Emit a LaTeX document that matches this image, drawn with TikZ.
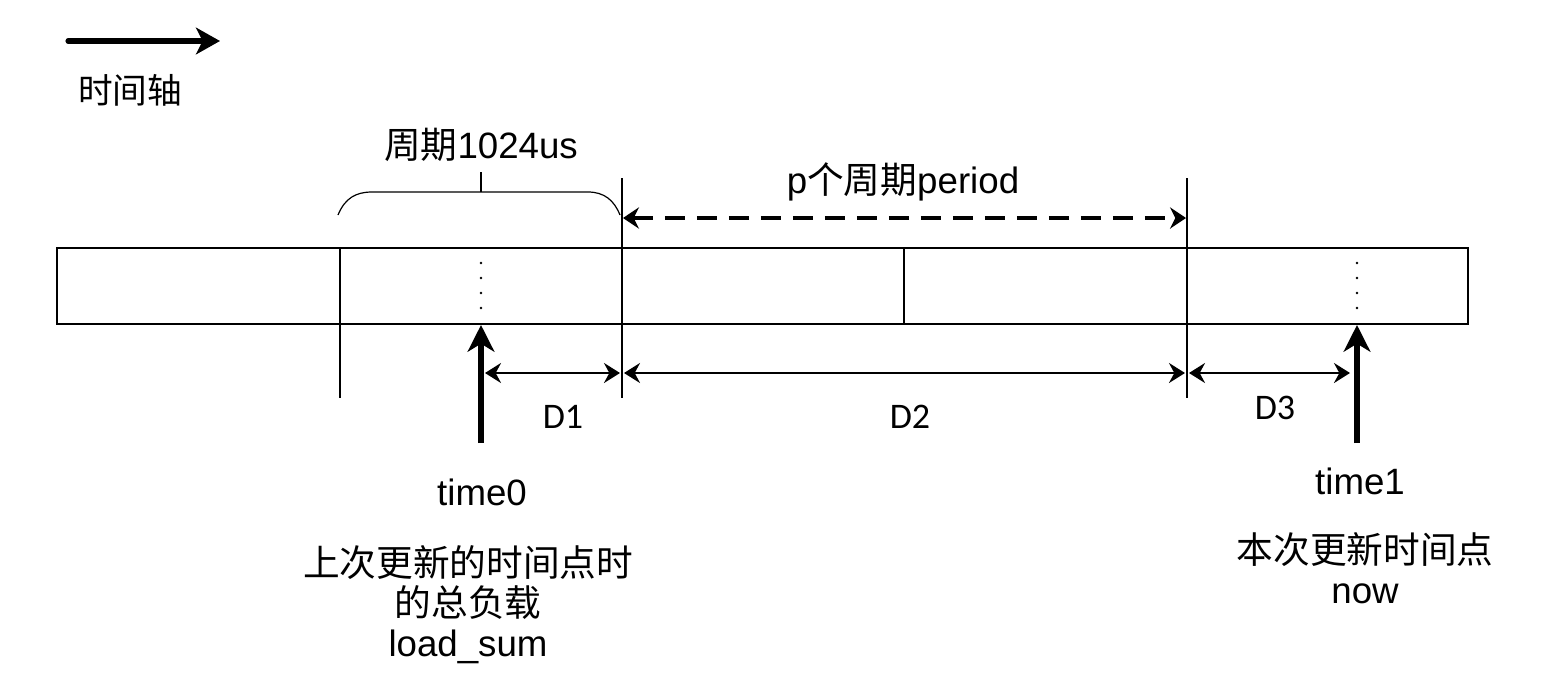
\documentclass[tikz,border=0pt]{standalone}
\usepackage{fontspec}
\setmainfont{Liberation Sans}
\newfontfamily\cjk{Noto Sans CJK SC}
\newfontfamily\calfont{Carlito}
\usetikzlibrary{arrows.meta}
\tikzset{
  ln/.style={line width=1.6pt},
  thin/.style={line width=0.9pt},
  dimarrow/.style={line width=1.6pt,{Stealth[length=12pt,width=15pt,inset=4pt]}-{Stealth[length=12pt,width=15pt,inset=4pt]}},
  dasharrow/.style={line width=2.8pt,dash pattern=on 15pt off 9pt,{Stealth[length=12pt,width=16pt,inset=4pt]}-{Stealth[length=12pt,width=16pt,inset=4pt]}},
  bigarrow/.style={line width=4.5pt,-{Stealth[length=20pt,width=20pt,inset=6pt]}},
  toparrow/.style={line width=3.8pt,line cap=round,-{Stealth[length=18pt,width=20pt,inset=5pt]}},
  dots/.style={line width=2pt,line cap=round,dash pattern=on 0pt off 11.25pt},
  txt/.style={inner sep=0pt,font=\fontsize{27.5}{30}\selectfont},
  dtxt/.style={inner sep=0pt,font=\calfont\fontsize{27}{30}\selectfont},
}
\begin{document}
\begin{tikzpicture}[x=0.75pt,y=-0.75pt]
\useasboundingbox (0,0) rectangle (1564,690);
% legend arrow
\coordinate (ta) at (68,41);
\coordinate (tb) at (220,41);
\draw[toparrow] (ta) -- (tb);
\node[txt,font=\cjk\fontsize{26}{30}\selectfont] (tl) at (130,90) {时间轴};
% main strip
\coordinate (r1) at (57,248);
\coordinate (r2) at (1468,324);
\draw[ln] (r1) rectangle (r2);
% period boundaries
\coordinate (a1) at (340,248); \coordinate (a2) at (340,398);
\coordinate (b1) at (622,178); \coordinate (b2) at (622,398);
\coordinate (c1) at (904,248); \coordinate (c2) at (904,324);
\coordinate (d1) at (1187,178); \coordinate (d2) at (1187,398);
\draw[ln] (a1) -- (a2);
\draw[ln] (b1) -- (b2);
\draw[ln] (c1) -- (c2);
\draw[ln] (d1) -- (d2);
% brace
\coordinate (br1) at (338,215);
\coordinate (br2) at (620,215);
\coordinate (brt) at (481,192);
\coordinate (brtop) at (481,172);
\draw[thin] (br1) .. controls (345,198) and (356,192) .. (372,192) -- (588,192) .. controls (604,192) and (614,200) .. (br2);
\draw[thin] (brt) -- (brtop);
\node[txt] (per) at (481,145) {{\cjk 周期}1024us};
% p periods
\coordinate (pa) at (623,218);
\coordinate (pb) at (1186,218);
\draw[dasharrow] (pa) -- (pb);
\node[txt] (pper) at (903,182) {p{\cjk 个周期}period};
% dotted marks
\coordinate (t0a) at (481,263); \coordinate (t0b) at (481,309);
\coordinate (t1a) at (1357,263); \coordinate (t1b) at (1357,309);
\draw[dots] (t0a) -- (t0b);
\draw[dots] (t1a) -- (t1b);
% time arrows
\coordinate (t0s) at (481,443); \coordinate (t0e) at (481,325);
\coordinate (t1s) at (1357,443); \coordinate (t1e) at (1357,325);
\draw[bigarrow] (t0s) -- (t0e);
\draw[bigarrow] (t1s) -- (t1e);
% dimension arrows
\coordinate (D1a) at (485,373); \coordinate (D1b) at (620,373);
\coordinate (D2a) at (624,373); \coordinate (D2b) at (1185,373);
\coordinate (D3a) at (1189,373); \coordinate (D3b) at (1350,373);
\draw[dimarrow] (D1a) -- (D1b);
\draw[dimarrow] (D2a) -- (D2b);
\draw[dimarrow] (D3a) -- (D3b);
\node[dtxt] (lD1) at (563,417) {D1};
\node[dtxt] (lD2) at (910,417) {D2};
\node[dtxt] (lD3) at (1275,408) {D3};
% labels
\node[txt] (lt0) at (482,492) {time0};
\node[txt,align=center,font=\fontsize{27.5}{30}\selectfont] (lt0b) at (468,605) {{\cjk 上次更新的时间点时}\\{\cjk 的总负载}\\load\_sum};
\node[txt] (lt1) at (1360,481) {time1};
\node[txt,align=center,font=\fontsize{27.5}{30}\selectfont] (lt1b) at (1365,568) {{\cjk 本次更新时间点}\\now};
\end{tikzpicture}
\end{document}
